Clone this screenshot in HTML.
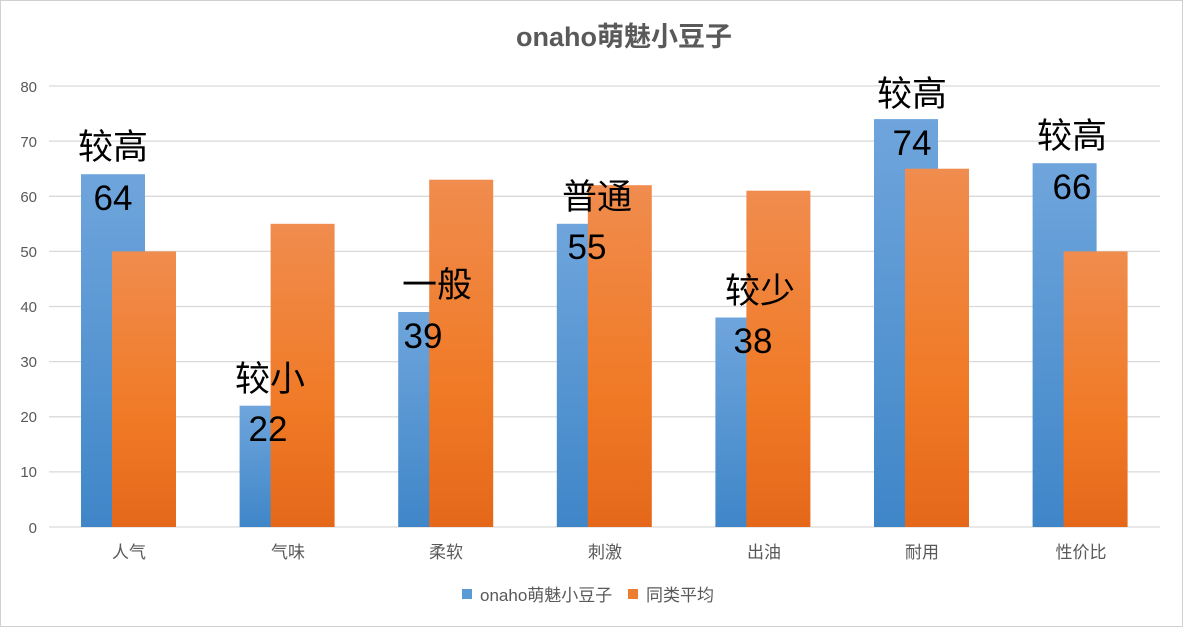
<!DOCTYPE html>
<html><head><meta charset="utf-8"><style>
body{margin:0;background:#fff}
svg{display:block}
</style></head><body>
<svg width="1183" height="627" xmlns="http://www.w3.org/2000/svg" font-family="'Liberation Sans','Noto Sans CJK SC',sans-serif">
<defs>
<linearGradient id="b" x1="0" y1="0" x2="0" y2="1"><stop offset="0" stop-color="#6fa5dc"/><stop offset="1" stop-color="#3f86c8"/></linearGradient>
<linearGradient id="o" x1="0" y1="0" x2="0" y2="1"><stop offset="0" stop-color="#f08c4e"/><stop offset="0.6" stop-color="#f07a26"/><stop offset="1" stop-color="#e5681a"/></linearGradient>
</defs>
<rect x="0.5" y="0.5" width="1182" height="626" fill="#fff" stroke="#d0d0d0"/>
<text x="624" y="46" text-anchor="middle" font-size="27" font-weight="bold" fill="#595959">onaho萌魅小豆子</text>
<g stroke="#d9d9d9" stroke-width="1.3">
<line x1="49" x2="1160" y1="86" y2="86"/><line x1="49" x2="1160" y1="141.1" y2="141.1"/>
<line x1="49" x2="1160" y1="196.3" y2="196.3"/><line x1="49" x2="1160" y1="251.4" y2="251.4"/>
<line x1="49" x2="1160" y1="306.5" y2="306.5"/><line x1="49" x2="1160" y1="361.6" y2="361.6"/>
<line x1="49" x2="1160" y1="416.8" y2="416.8"/><line x1="49" x2="1160" y1="471.9" y2="471.9"/>
<line x1="49" x2="1160" y1="527" y2="527"/>
</g>
<g font-size="15" fill="#595959" text-anchor="end">
<text x="37" y="92">80</text><text x="37" y="147">70</text><text x="37" y="202">60</text>
<text x="37" y="257">50</text><text x="37" y="312">40</text><text x="37" y="367">30</text>
<text x="37" y="422">20</text><text x="37" y="477">10</text><text x="37" y="533">0</text>
</g>
<g>
<rect x="81" y="174.2" width="64" height="352.8" fill="url(#b)"/>
<rect x="112" y="251.4" width="64" height="275.6" fill="url(#o)"/>
<rect x="239.6" y="405.7" width="64" height="121.3" fill="url(#b)"/>
<rect x="270.6" y="223.8" width="64" height="303.2" fill="url(#o)"/>
<rect x="398.2" y="312" width="64" height="215" fill="url(#b)"/>
<rect x="429.2" y="179.7" width="64" height="347.3" fill="url(#o)"/>
<rect x="556.8" y="223.8" width="64" height="303.2" fill="url(#b)"/>
<rect x="587.8" y="185.2" width="64" height="341.8" fill="url(#o)"/>
<rect x="715.4" y="317.5" width="64" height="209.5" fill="url(#b)"/>
<rect x="746.4" y="190.7" width="64" height="336.3" fill="url(#o)"/>
<rect x="874" y="119.1" width="64" height="407.9" fill="url(#b)"/>
<rect x="905" y="168.7" width="64" height="358.3" fill="url(#o)"/>
<rect x="1032.6" y="163.2" width="64" height="363.8" fill="url(#b)"/>
<rect x="1063.6" y="251.4" width="64" height="275.6" fill="url(#o)"/>
</g>
<g font-size="35" text-anchor="middle" fill="#000">
<text x="113" y="210">64</text><text x="113" y="159">较高</text>
<text x="268" y="441">22</text><text x="270" y="391">较小</text>
<text x="423" y="348">39</text><text x="437" y="297">一般</text>
<text x="587" y="259">55</text><text x="597" y="209">普通</text>
<text x="753" y="353">38</text><text x="760" y="303">较少</text>
<text x="912" y="155">74</text><text x="912" y="106">较高</text>
<text x="1072" y="199">66</text><text x="1072" y="148">较高</text>
</g>
<g font-size="17" fill="#595959" text-anchor="middle">
<text x="129" y="558">人气</text><text x="288" y="558">气味</text><text x="446" y="558">柔软</text>
<text x="605" y="558">刺激</text><text x="764" y="558">出油</text><text x="922" y="558">耐用</text><text x="1081" y="558">性价比</text>
</g>
<rect x="462" y="589" width="10" height="10" fill="#5b9bd5"/>
<text x="480" y="601" font-size="17" fill="#595959">onaho萌魅小豆子</text>
<rect x="628" y="589" width="10" height="10" fill="#ed7d31"/>
<text x="646" y="601" font-size="17" fill="#595959">同类平均</text>
</svg>
</body></html>
